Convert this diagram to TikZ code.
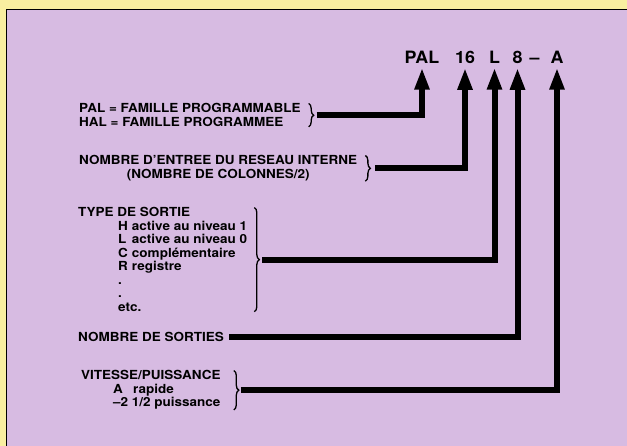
\documentclass[tikz,border=0pt]{standalone}
\usepackage{fontspec}
\newfontfamily\lab{TeX Gyre Heros}[FakeStretch=1.08]
\newfontfamily\codefont{TeX Gyre Heros}[FakeStretch=1.05]
\usetikzlibrary{arrows.meta,decorations.pathreplacing}
\definecolor{paper}{RGB}{249,239,160}
\definecolor{mauve}{RGB}{215,187,226}
\tikzset{
  lbl/.style={font=\lab\bfseries\fontsize{12.5}{13.5}\selectfont,inner sep=0pt,align=left,anchor=north west},
  ttl/.style={font=\codefont\bfseries\fontsize{17}{17}\selectfont,inner xsep=0pt,inner ysep=4pt,anchor=base},
  brc/.style={decorate,decoration={brace,amplitude=5pt},line width=1.3pt},
  conn/.style={line width=6pt,-{Triangle[width=14pt,length=22pt]}}
}
\newcommand{\itm}[1]{\makebox[10pt][l]{#1}}
\begin{document}
\begin{tikzpicture}[x=1pt,y=-1pt]
\useasboundingbox (0,0) rectangle (627,446);
\fill[paper] (0,0) rectangle (627,446);
\fill[mauve] (6.5,9.5) rectangle (627,446);
\draw[line width=1.5pt] (6.5,446)--(6.5,9.5)--(627,9.5);
% reference code
\node[ttl] (tpal) at (422,63.5) {PAL};
\node[ttl] (t16) at (465,63.5) {16};
\node[ttl] (tl) at (494.5,63.5) {L};
\node[ttl] (t8) at (517.5,63.5) {8};
\node[ttl] (tdash) at (534.5,63.5) {–};
\node[ttl] (ta) at (557,63.5) {A};
% explanations
\node[lbl] (pal) at (79,103.5) {PAL = FAMILLE PROGRAMMABLE\\HAL = FAMILLE PROGRAMMEE};
\node[lbl,align=center] (ent) at (79,155.5) {NOMBRE D’ENTREE DU RESEAU INTERNE\\(NOMBRE DE COLONNES/2)};
\node[lbl] (typ) at (78,207.5) {TYPE DE SORTIE\\
  \hspace*{40pt}\itm{H} active au niveau 1\\
  \hspace*{40pt}\itm{L} active au niveau 0\\
  \hspace*{40pt}\itm{C} complémentaire\\
  \hspace*{40pt}\itm{R} registre\\
  \hspace*{40pt}.\\
  \hspace*{40pt}.\\
  \hspace*{40pt}etc.};
\node[lbl] (sor) at (78,332) {NOMBRE DE SORTIES};
\node[lbl] (vit) at (81,370.5) {VITESSE/PUISSANCE\\
  \hspace*{32pt}\makebox[20pt][l]{A}rapide\\
  \hspace*{32pt}–2 1/2 puissance};
% braces
\draw[brc] ([xshift=8pt]pal.north east)--([xshift=8pt]pal.south east);
\draw[brc] ([xshift=8pt]ent.north east)--([xshift=8pt]ent.south east);
\draw[brc] ([xshift=7pt]typ.north east)--([xshift=7pt]typ.south east);
\draw[brc] ([xshift=13pt]vit.north east)--([xshift=13pt]vit.south east);
\coordinate (palb) at ([xshift=16pt]pal.east);
\coordinate (entb) at ([xshift=18pt]ent.east);
\coordinate (typb) at ([xshift=15pt]typ.east);
\coordinate (sorb) at ([xshift=5pt]sor.east);
\coordinate (vitb) at ([xshift=20pt]vit.east);
% arrows
\draw[conn] (palb) -| (tpal.south);
\draw[conn] (entb) -| (t16.south);
\draw[conn] (typb) -| (tl.south);
\draw[conn] (sorb) -| (t8.south);
\draw[conn] (vitb) -| (ta.south);
\end{tikzpicture}
\end{document}
